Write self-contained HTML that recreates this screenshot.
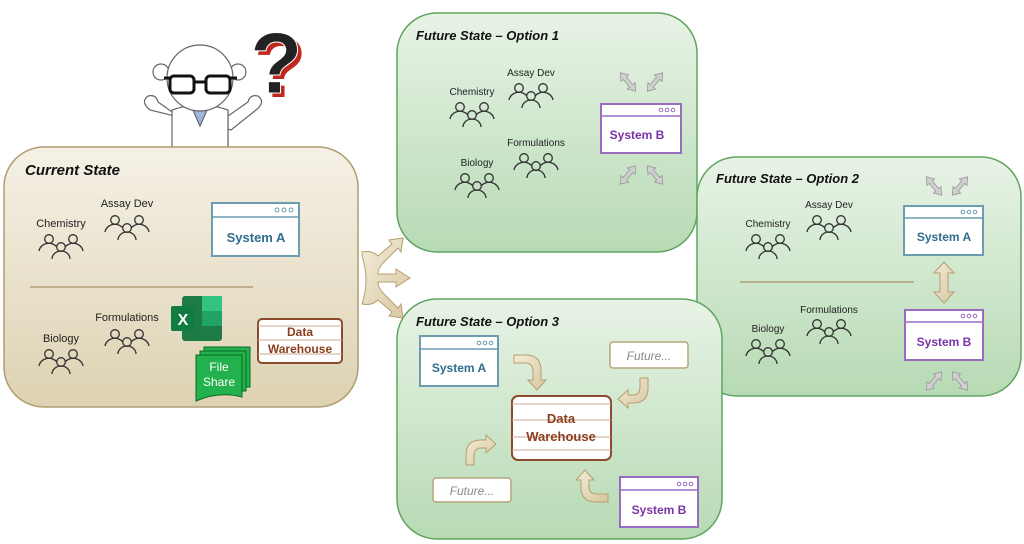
<!DOCTYPE html>
<html><head><meta charset="utf-8"><style>
html,body{margin:0;padding:0;background:#fff;}
svg{display:block;font-family:"Liberation Sans",sans-serif;}
</style></head><body>
<svg width="1024" height="544" viewBox="0 0 1024 544" xmlns="http://www.w3.org/2000/svg">
<defs>
<linearGradient id="tan" x1="0" y1="0" x2="0" y2="1"><stop offset="0" stop-color="#f5f1e6"/><stop offset="1" stop-color="#ddd2b2"/></linearGradient>
<linearGradient id="grn" x1="0" y1="0" x2="0" y2="1"><stop offset="0" stop-color="#e8f3e6"/><stop offset="1" stop-color="#b7dab4"/></linearGradient>
<linearGradient id="arr" x1="0" y1="0" x2="1" y2="1"><stop offset="0" stop-color="#f3ecd8"/><stop offset="1" stop-color="#d6c7a0"/></linearGradient>
<g id="ppl" fill="none" stroke="#333" stroke-width="1.3">
<circle cx="-12" cy="-6" r="4.3"/><path d="M-22 6 a10 9 0 0 1 18 -4"/>
<circle cx="12" cy="-6" r="4.3"/><path d="M22 6 a10 9 0 0 0 -18 -4"/>
<circle cx="0" cy="2" r="4.3"/><path d="M-9 14 a9 8 0 0 1 18 0"/>
</g>
<g id="garr" fill="#d0d0d0" stroke="#999" stroke-width="0.8">
<polygon points="0,-12 5,-5 2,-5 2,5 5,5 0,12 -5,5 -2,5 -2,-5 -5,-5"/>
</g>
</defs>

<!-- scientist -->
<g stroke="#666" stroke-width="1.2" fill="#fff">
<path d="M150 110 q-10 -8 -2 -14 q8 -2 10 6 l20 14 l0 30 l50 0 l0 -30 l20 -14 q2 -8 10 -6 q8 6 -2 14 l-25 20 z"/>
<path d="M172 110 l0 40 l56 0 l0 -40 q-28 -10 -56 0z"/>
<path d="M192 108 l8 18 l8 -18z" fill="#9fb8e0"/>
<circle cx="161" cy="72" r="8"/><circle cx="238" cy="72" r="8"/>
<circle cx="200" cy="78" r="33"/>
</g>
<g stroke="#111" stroke-width="3" fill="none">
<rect x="170" y="76" width="24" height="17" rx="4"/><rect x="206" y="76" width="24" height="17" rx="4"/>
<path d="M194 82 h12 M164 78 h6 M230 78 h7"/>
</g>
<text x="254" y="97" font-size="86" font-weight="bold" fill="#c0281e">?</text>
<text x="250" y="93" font-size="86" font-weight="bold" fill="#222" stroke="#fff" stroke-width="1">?</text>

<!-- Current State -->
<rect x="4" y="147" width="354" height="260" rx="40" fill="url(#tan)" stroke="#b09c70" stroke-width="1.5"/>
<text x="25" y="175" font-size="15" font-weight="bold" font-style="italic" fill="#111">Current State</text>
<text x="61" y="227" font-size="11" text-anchor="middle" fill="#222">Chemistry</text>
<use href="#ppl" x="61" y="245"/>
<text x="127" y="207" font-size="11" text-anchor="middle" fill="#222">Assay Dev</text>
<use href="#ppl" x="127" y="226"/>
<text x="61" y="342" font-size="11" text-anchor="middle" fill="#222">Biology</text>
<use href="#ppl" x="61" y="360"/>
<text x="127" y="321" font-size="11" text-anchor="middle" fill="#222">Formulations</text>
<use href="#ppl" x="127" y="340"/>
<line x1="30" y1="287" x2="253" y2="287" stroke="#a89468" stroke-width="1.3"/>
<rect x="212" y="203" width="87" height="53" fill="#fff" stroke="#6c9cb0" stroke-width="2"/>
<line x1="212" y1="217" x2="299" y2="217" stroke="#6c9cb0" stroke-width="1.5"/>
<g fill="none" stroke="#6c9cb0"><circle cx="277" cy="210" r="2"/><circle cx="284" cy="210" r="2"/><circle cx="291" cy="210" r="2"/></g>
<text x="256" y="242" font-size="13" font-weight="bold" text-anchor="middle" fill="#2d6f8c">System A</text>
<!-- excel -->
<rect x="182" y="296" width="40" height="45" rx="3" fill="#1e7b45"/>
<rect x="202" y="296" width="20" height="15" fill="#33c481"/><rect x="202" y="311" width="20" height="15" fill="#21a366"/>
<rect x="171" y="306" width="24" height="25" rx="2" fill="#107c41"/>
<text x="183" y="325" font-size="16" font-weight="bold" fill="#fff" text-anchor="middle">X</text>
<!-- file share -->
<rect x="204" y="347" width="46" height="40" fill="#22b14c" stroke="#0a6a25"/>
<rect x="200" y="351" width="46" height="40" fill="#22b14c" stroke="#0a6a25"/>
<path d="M196 355 h46 v42 q-23 -6 -46 4z" fill="#22b14c" stroke="#0a6a25"/>
<text x="219" y="371" font-size="12" fill="#fff" text-anchor="middle">File</text>
<text x="219" y="386" font-size="12" fill="#fff" text-anchor="middle">Share</text>
<!-- DW -->
<rect x="258" y="319" width="84" height="44" rx="4" fill="#fff" stroke="#8b4a2b" stroke-width="2"/>
<g stroke="#c9a898" stroke-width="1"><line x1="258" y1="326" x2="342" y2="326"/><line x1="258" y1="340" x2="342" y2="340"/><line x1="258" y1="354" x2="342" y2="354"/></g>
<text x="300" y="336" font-size="12" font-weight="bold" text-anchor="middle" fill="#8b3e1c">Data</text>
<text x="300" y="353" font-size="12" font-weight="bold" text-anchor="middle" fill="#8b3e1c">Warehouse</text>

<!-- Option 1 -->
<rect x="397" y="13" width="300" height="239" rx="40" fill="url(#grn)" stroke="#5fa55f" stroke-width="1.5"/>
<text x="416" y="40" font-size="13" font-weight="bold" font-style="italic" fill="#111">Future State – Option 1</text>
<text x="472" y="95" font-size="10" text-anchor="middle" fill="#222">Chemistry</text>
<use href="#ppl" x="472" y="113"/>
<text x="531" y="76" font-size="10" text-anchor="middle" fill="#222">Assay Dev</text>
<use href="#ppl" x="531" y="94"/>
<text x="477" y="166" font-size="10" text-anchor="middle" fill="#222">Biology</text>
<use href="#ppl" x="477" y="184"/>
<text x="536" y="146" font-size="10" text-anchor="middle" fill="#222">Formulations</text>
<use href="#ppl" x="536" y="164"/>
<rect x="601" y="104" width="80" height="49" fill="#fff" stroke="#9a6cc0" stroke-width="2"/>
<line x1="601" y1="116" x2="681" y2="116" stroke="#9a6cc0" stroke-width="1.5"/>
<g fill="none" stroke="#9a6cc0"><circle cx="661" cy="110" r="1.8"/><circle cx="667" cy="110" r="1.8"/><circle cx="673" cy="110" r="1.8"/></g>
<text x="637" y="139" font-size="12" font-weight="bold" text-anchor="middle" fill="#7a33a6">System B</text>
<use href="#garr" transform="translate(628,82) rotate(-40)"/>
<use href="#garr" transform="translate(655,82) rotate(40)"/>
<use href="#garr" transform="translate(628,175) rotate(40)"/>
<use href="#garr" transform="translate(655,175) rotate(-40)"/>

<!-- Option 2 -->
<rect x="697" y="157" width="324" height="239" rx="40" fill="url(#grn)" stroke="#5fa55f" stroke-width="1.5"/>
<text x="716" y="183" font-size="13" font-weight="bold" font-style="italic" fill="#111">Future State – Option 2</text>
<text x="768" y="227" font-size="10" text-anchor="middle" fill="#222">Chemistry</text>
<use href="#ppl" x="768" y="245"/>
<text x="829" y="208" font-size="10" text-anchor="middle" fill="#222">Assay Dev</text>
<use href="#ppl" x="829" y="226"/>
<line x1="740" y1="282" x2="914" y2="282" stroke="#a89468" stroke-width="1.3"/>
<text x="768" y="332" font-size="10" text-anchor="middle" fill="#222">Biology</text>
<use href="#ppl" x="768" y="350"/>
<text x="829" y="313" font-size="10" text-anchor="middle" fill="#222">Formulations</text>
<use href="#ppl" x="829" y="330"/>
<rect x="904" y="206" width="79" height="49" fill="#fff" stroke="#6c9cb0" stroke-width="2"/>
<line x1="904" y1="218" x2="983" y2="218" stroke="#6c9cb0" stroke-width="1.5"/>
<g fill="none" stroke="#6c9cb0"><circle cx="963" cy="212" r="1.8"/><circle cx="969" cy="212" r="1.8"/><circle cx="975" cy="212" r="1.8"/></g>
<text x="944" y="241" font-size="12" font-weight="bold" text-anchor="middle" fill="#2d6f8c">System A</text>
<rect x="905" y="310" width="78" height="50" fill="#fff" stroke="#9a6cc0" stroke-width="2"/>
<line x1="905" y1="322" x2="983" y2="322" stroke="#9a6cc0" stroke-width="1.5"/>
<g fill="none" stroke="#9a6cc0"><circle cx="963" cy="316" r="1.8"/><circle cx="969" cy="316" r="1.8"/><circle cx="975" cy="316" r="1.8"/></g>
<text x="944" y="346" font-size="12" font-weight="bold" text-anchor="middle" fill="#7a33a6">System B</text>
<polygon points="944,262 954,273 948,273 948,292 954,292 944,303 934,292 940,292 940,273 934,273" fill="url(#arr)" stroke="#b59f70"/>
<use href="#garr" transform="translate(934,186) rotate(-40)"/>
<use href="#garr" transform="translate(960,186) rotate(40)"/>
<use href="#garr" transform="translate(934,381) rotate(40)"/>
<use href="#garr" transform="translate(960,381) rotate(-40)"/>

<!-- Option 3 -->
<rect x="397" y="299" width="325" height="240" rx="40" fill="url(#grn)" stroke="#5fa55f" stroke-width="1.5"/>
<text x="416" y="326" font-size="13" font-weight="bold" font-style="italic" fill="#111">Future State – Option 3</text>
<rect x="420" y="336" width="78" height="50" fill="#fff" stroke="#6c9cb0" stroke-width="2"/>
<line x1="420" y1="349" x2="498" y2="349" stroke="#6c9cb0" stroke-width="1.5"/>
<g fill="none" stroke="#6c9cb0"><circle cx="479" cy="343" r="1.8"/><circle cx="485" cy="343" r="1.8"/><circle cx="491" cy="343" r="1.8"/></g>
<text x="459" y="372" font-size="12" font-weight="bold" text-anchor="middle" fill="#2d6f8c">System A</text>
<rect x="610" y="342" width="78" height="26" rx="3" fill="#fff" stroke="#b5a57a" stroke-width="1.5"/>
<text x="649" y="360" font-size="12" font-style="italic" text-anchor="middle" fill="#888">Future...</text>
<rect x="433" y="478" width="78" height="24" rx="3" fill="#fff" stroke="#b5a57a" stroke-width="1.5"/>
<text x="472" y="495" font-size="12" font-style="italic" text-anchor="middle" fill="#888">Future...</text>
<rect x="620" y="477" width="78" height="50" fill="#fff" stroke="#9a6cc0" stroke-width="2"/>
<line x1="620" y1="490" x2="698" y2="490" stroke="#9a6cc0" stroke-width="1.5"/>
<g fill="none" stroke="#9a6cc0"><circle cx="679" cy="484" r="1.8"/><circle cx="685" cy="484" r="1.8"/><circle cx="691" cy="484" r="1.8"/></g>
<text x="659" y="514" font-size="12" font-weight="bold" text-anchor="middle" fill="#7a33a6">System B</text>
<rect x="512" y="396" width="99" height="64" rx="6" fill="#fff" stroke="#8b4a2b" stroke-width="2"/>
<g stroke="#c9a898"><line x1="512" y1="404" x2="611" y2="404"/><line x1="512" y1="420" x2="611" y2="420"/><line x1="512" y1="437" x2="611" y2="437"/><line x1="512" y1="450" x2="611" y2="450"/></g>
<text x="561" y="423" font-size="13" font-weight="bold" text-anchor="middle" fill="#8b3e1c">Data</text>
<text x="561" y="441" font-size="13" font-weight="bold" text-anchor="middle" fill="#8b3e1c">Warehouse</text>
<g fill="url(#arr)" stroke="#b59f70" stroke-width="1">
<path d="M514 355 h12 q15 0 15 15 v10 h5 l-9 10 l-9 -10 h5 v-8 q0 -9 -8 -9 h-11z"/>
<path d="M648 378 v10 q0 15 -15 15 h-5 v5 l-10 -9 l10 -9 v5 h5 q7 0 7 -8 v-9z"/>
<path d="M466 465 v-10 q0 -15 15 -15 h5 v-5 l10 9 l-10 9 v-5 h-5 q-7 0 -7 8 v9z"/>
<path d="M608 502 h-12 q-15 0 -15 -15 v-7 h-5 l9 -10 l9 10 h-5 v7 q0 7 8 7 h11z"/>
</g>

<!-- 3-way arrow -->
<path d="M362 252 q10 -2 16 4 l14 -12 l-3 -4 l14 -2 l-2 14 l-3 -4 l-14 14 q-6 6 -6 12 l18 0 v-5 l14 9 l-14 9 v-5 l-18 0 q0 6 6 12 l14 14 l3 -4 l2 14 l-14 -2 l3 -4 l-14 -12 q-6 6 -16 4 q8 -24 0 -48z" fill="url(#arr)" stroke="#b59f70" stroke-width="1"/>
</svg>
</body></html>
